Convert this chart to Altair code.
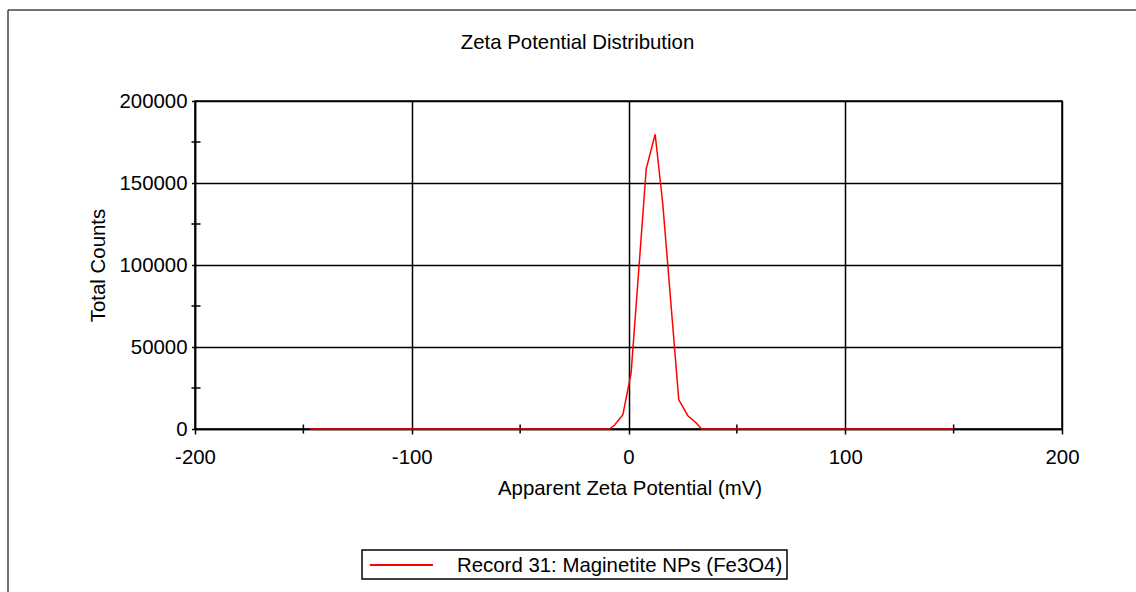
import altair as alt
import pandas as pd

# Zeta potential distribution (record 31)
zeta_mv = [-147, -8.8, -6.3, -2.6, 1.2, 8.2, 12.3, 15.8, 23.2, 27.4, 31.0, 33.8, 150]
total_counts = [0, 0, 2600, 8700, 34000, 158800, 179700, 137500, 17800, 8100, 4000, 0, 0]
series_name = "Record 31: Maginetite NPs (Fe3O4)"

chart_title = "Zeta Potential Distribution"
x_title = "Apparent Zeta Potential (mV)"
y_title = "Total Counts"

x_ticks = [-200, -100, 0, 100, 200]
y_ticks = [0, 50000, 100000, 150000, 200000]
x_minor = [-150, -50, 50, 150]
y_minor = [25000, 75000, 125000, 175000]

FONT = "Liberation Sans"
FS = 20.4
W, H = 867, 328
LEFT, TOP = 195, 101

df = pd.DataFrame({"zeta": zeta_mv, "counts": total_counts})
x_scale = alt.Scale(domain=[-200, 200], nice=False, zero=False)
y_scale = alt.Scale(domain=[0, 200000], nice=False)

line = alt.Chart(df).mark_line(strokeWidth=1.5, color="#ff0000").encode(
    x=alt.X(
        "zeta:Q",
        scale=x_scale,
        title=x_title,
        axis=alt.Axis(
            values=x_ticks,
            labelExpr="'' + datum.value",
            labelFlush=False,
            tickSize=5,
            labelPadding=13,
            titleX=W / 2 + 1,
            titleY=65,
            titleBaseline="alphabetic",
            titleAlign="center",
        ),
    ),
    y=alt.Y(
        "counts:Q",
        scale=y_scale,
        title=y_title,
        axis=alt.Axis(
            values=y_ticks,
            labelExpr="'' + datum.value",
            labelFlush=False,
            tickSize=3.5,
            labelPadding=4.5,
            titleX=-97,
            titleY=H / 2,
            titleAngle=270,
            titleBaseline="middle",
            titleAlign="center",
        ),
    ),
)

# minor ticks straddling each axis
x_minor_ticks = alt.Chart(pd.DataFrame({"v": x_minor})).mark_rule(
    color="black", strokeWidth=1.5
).encode(
    x=alt.X("v:Q", scale=x_scale, title=x_title),
    y=alt.value(H - 4.5),
    y2=alt.value(H + 4.5),
)
y_minor_ticks = alt.Chart(pd.DataFrame({"v": y_minor})).mark_rule(
    color="black", strokeWidth=1.5
).encode(
    y=alt.Y("v:Q", scale=y_scale, title=y_title),
    x=alt.value(-3.5),
    x2=alt.value(5.5),
)

one = pd.DataFrame({"t": [chart_title], "s": [series_name]})
title_mark = alt.Chart(one).mark_text(
    font=FONT, fontSize=FS, color="black", baseline="alphabetic", align="center"
).encode(text="t:N", x=alt.value(382.5), y=alt.value(49 - TOP))

# legend: framed box with a red line sample and the record name
LEG_Y = 565 - TOP
legend_box = alt.Chart(one).mark_rect(
    fill="white", stroke="black", strokeWidth=1.5
).encode(
    x=alt.value(362 - LEFT), x2=alt.value(787 - LEFT),
    y=alt.value(550 - TOP), y2=alt.value(579 - TOP),
)
legend_line = alt.Chart(one).mark_rule(color="#ff0000", strokeWidth=2).encode(
    x=alt.value(370 - LEFT), x2=alt.value(433 - LEFT), y=alt.value(LEG_Y)
)
legend_text = alt.Chart(one).mark_text(
    font=FONT, fontSize=FS, color="black", baseline="middle", align="left"
).encode(text="s:N", x=alt.value(457 - LEFT), y=alt.value(LEG_Y + 1))

# outer page frame
frame_left = alt.Chart(one).mark_rule(color="#444444", strokeWidth=1.5).encode(
    x=alt.value(8 - LEFT), y=alt.value(10 - TOP), y2=alt.value(600 - TOP)
)
frame_top = alt.Chart(one).mark_rule(color="#444444", strokeWidth=1.5).encode(
    y=alt.value(10 - TOP), x=alt.value(8 - LEFT), x2=alt.value(1140 - LEFT)
)

chart = (
    alt.layer(
        x_minor_ticks, y_minor_ticks, line, title_mark,
        legend_box, legend_line, legend_text, frame_left, frame_top,
    )
    .properties(
        width=W,
        height=H,
        autosize=alt.AutoSizeParams(type="none"),
        padding={"left": LEFT, "top": TOP, "right": 1136 - LEFT - W, "bottom": 592 - TOP - H},
        background="white",
    )
    .configure_view(stroke="black", strokeWidth=1.5)
    .configure_axis(
        labelFont=FONT,
        labelFontSize=FS,
        labelColor="black",
        titleFont=FONT,
        titleFontSize=FS,
        titleFontWeight="normal",
        titleColor="black",
        domainColor="black",
        domainWidth=1.5,
        tickColor="black",
        tickWidth=1.5,
        grid=True,
        gridColor="black",
        gridWidth=1.5,
        gridOpacity=1,
    )
)

chart.save("out.html", embed_options={"renderer": "svg", "actions": False})
